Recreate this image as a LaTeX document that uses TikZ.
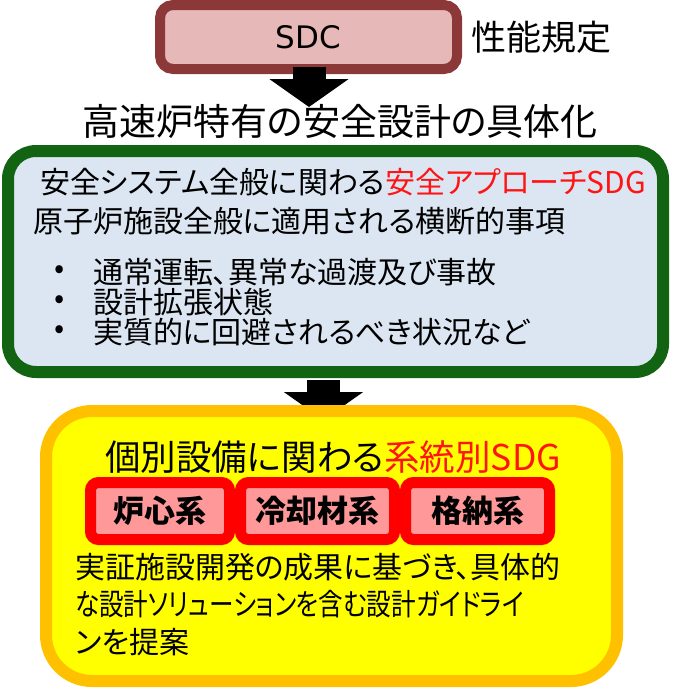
\documentclass[tikz,border=0pt]{standalone}
\usepackage{fontspec}
\setmainfont{Noto Sans CJK JP}[RawFeature=+palt]
\newfontfamily\sdcfont{DejaVu Sans}
\usetikzlibrary{positioning,arrows.meta}
\definecolor{sdcred}{RGB}{140,56,56}
\definecolor{sdcfill}{RGB}{230,184,183}
\definecolor{generalgreen}{RGB}{18,100,18}
\definecolor{generalfill}{RGB}{220,230,242}
\definecolor{systemorange}{RGB}{255,192,0}
\definecolor{systemfill}{RGB}{255,255,0}
\definecolor{subfill}{RGB}{255,153,153}
\definecolor{sdgred}{RGB}{255,20,20}
\tikzset{
    % Define block arrow between the stages
    blockarrow/.style={
           -{Triangle[width=78pt,length=28pt]},
           line width=33pt,
           black},
    % Define text size
    bodytext/.style={font=\fontsize{30}{30}\selectfont, anchor=west}
}

\begin{document}
\begin{tikzpicture}[x=1pt, y=-1pt, inner sep=0pt, outer sep=0pt]
\tikzstyle{sdcbox}=[draw=sdcred, fill=sdcfill, rectangle, line width=10pt, rounded corners=13pt,
    minimum width=297pt, minimum height=64pt, font=\sdcfont\fontsize{31}{31}\selectfont]
%
\tikzstyle{generalbox}=[draw=generalgreen, fill=generalfill, rectangle, line width=12pt, rounded corners=28pt,
    minimum width=655pt, minimum height=221pt]
%
\tikzstyle{systembox}=[draw=systemorange, fill=systemfill, rectangle, line width=12pt, rounded corners=46pt,
    minimum width=571pt, minimum height=270pt]
%
\tikzstyle{subbox}=[draw=red, fill=subfill, rectangle, line width=11pt, rounded corners=8pt,
    minimum height=57pt, font=\fontsize{31}{31}\selectfont\bfseries]
%
\tikzstyle{headtext}=[font=\fontsize{37}{37}\selectfont]

\useasboundingbox (0,0) rectangle (672,688);

\node[sdcbox] (sdc) at (308.5,37) {SDC};
\node[headtext, font=\fontsize{35}{35}\selectfont, right=14pt of sdc] (perf) {性能規定};

\coordinate (tip1) at (309,107);
\path[blockarrow, shorten <=-2pt] (sdc.south -| tip1) edge (tip1);

\node[headtext] (concrete) at (340,121) {高速炉特有の安全設計の具体化};

\node[generalbox] (general) at (335.5,261.5) {};
\node[bodytext] (approach) at (40,182) {安全システム全般に関わる\textcolor{sdgred}{安全アプローチSDG}};
\node[bodytext] (cross) at (33,221) {原子炉施設全般に適用される横断的事項};
\node[bodytext, anchor=center] (dot1) at (60,272) {•};
\node[bodytext] (normal) at (93,272) {通常運転、異常な過渡及び事故};
\node[bodytext, anchor=center] (dot2) at (60,302) {•};
\node[bodytext] (dec) at (93,302) {設計拡張状態};
\node[bodytext, anchor=center] (dot3) at (60,332) {•};
\node[bodytext] (avoid) at (93,332) {実質的に回避されるべき状況など};

\coordinate (tip2) at (323.5,420);
\path[blockarrow, shorten <=8pt] (general.south -| tip2) edge (tip2);

\node[systembox] (system) at (331.5,546) {};
\node[headtext, font=\fontsize{35.5}{35.5}\selectfont] (systitle) at (333,457) {個別設備に関わる\textcolor{sdgred}{系統別SDG}};

\node[subbox, minimum width=139pt] (core) at (160,511) {炉心系};
\node[subbox, minimum width=154pt, right=11pt of core] (coolant) {冷却材系};
\node[subbox, minimum width=144pt, right=11pt of coolant] (contain) {格納系};

\node[bodytext] (demo1) at (75,567) {実証施設開発の成果に基づき、具体的};
\node[bodytext] (demo2) at (75,604) {\scalebox{0.82}[1]{な設計ソリューションを含む設計ガイドライ}};
\node[bodytext] (demo3) at (75,642) {ンを提案};

\end{tikzpicture}
\end{document}
